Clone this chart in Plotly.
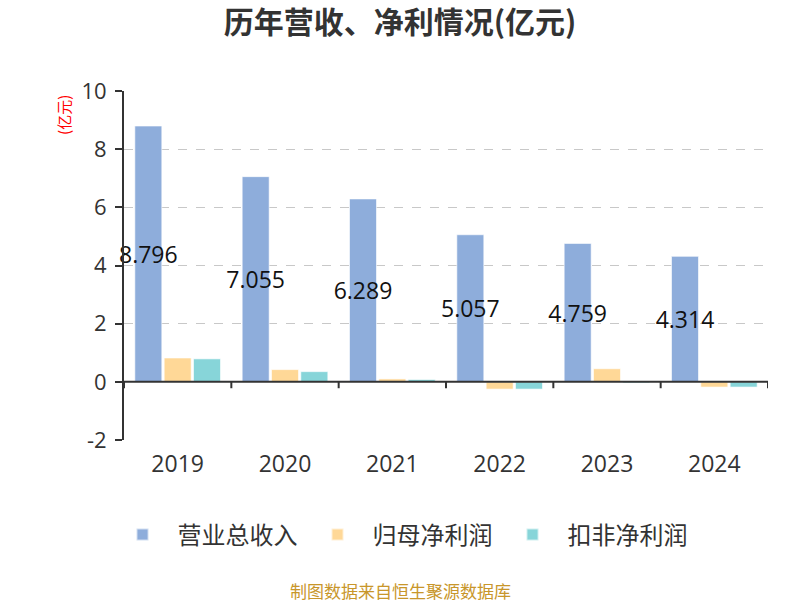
import plotly.graph_objects as go

years = ["2019", "2020", "2021", "2022", "2023", "2024"]
revenue = [8.796, 7.055, 6.289, 5.057, 4.759, 4.314]
net_profit = [0.82, 0.42, 0.10, -0.25, 0.45, -0.18]
net_profit_deducted = [0.79, 0.35, 0.08, -0.25, -0.04, -0.18]
series_names = ["营业总收入", "归母净利润", "扣非净利润"]
colors = ["#8EADDB", "#FFD897", "#87D5D9"]
y_ticks = [-2, 0, 2, 4, 6, 8, 10]
y_tick_text = ["-2", "0", "2", "4", "6", "8", "10"]

FONT = "Open Sans, Noto Sans CJK SC, sans-serif"
CJK = "Noto Sans CJK SC, sans-serif"

fig = go.Figure()
fig.add_trace(go.Bar(
    x=years, y=revenue, name=series_names[0],
    marker=dict(color=colors[0], line=dict(color="rgba(255,255,255,0.6)", width=1)),
    text=[f"{v:.3f}" for v in revenue], textposition="inside",
    insidetextanchor="middle", textangle=0, constraintext="none",
    insidetextfont=dict(color="#111", size=23, family=FONT),
    cliponaxis=False,
))
fig.add_trace(go.Bar(
    x=years, y=net_profit, name=series_names[1],
    marker=dict(color=colors[1], line=dict(color="rgba(255,255,255,0.6)", width=1)),
))
fig.add_trace(go.Bar(
    x=years, y=net_profit_deducted, name=series_names[2],
    marker=dict(color=colors[2], line=dict(color="rgba(255,255,255,0.6)", width=1)),
))

# x-axis line at zero with boundary ticks
n = len(years)
fig.add_shape(type="line", xref="paper", yref="y", x0=0, x1=1, y0=0, y1=0,
              line=dict(color="#333", width=2), layer="above")
for i in range(n + 1):
    fig.add_shape(type="line", xref="x", yref="y", x0=i - 0.5, x1=i - 0.5,
                  y0=0, y1=-0.22, line=dict(color="#333", width=2), layer="above")

fig.update_layout(
    width=800, height=600,
    paper_bgcolor="white", plot_bgcolor="white",
    margin=dict(l=124, r=32, t=91, b=160, autoexpand=False),
    barmode="group", bargap=0.18, bargroupgap=0.08,
    uniformtext=dict(minsize=23, mode="show"),
    title=dict(text="<b>历年营收、净利情况(亿元)</b>", x=0.5, xanchor="center",
               y=0.963, yanchor="middle",
               font=dict(size=30, color="#333", family=CJK)),
    font=dict(family=FONT, color="#333"),
    xaxis=dict(type="category", showline=False, ticks="", showgrid=False,
               tickfont=dict(size=23, color="#333", family=FONT),
               range=[-0.5, n - 0.5], ticklabelstandoff=8),
    yaxis=dict(range=[-2, 10], tickvals=y_ticks, ticktext=y_tick_text,
               showline=True, linecolor="#333", linewidth=2,
               ticks="outside", ticklen=7, tickwidth=2, tickcolor="#333",
               showgrid=True, gridcolor="#c8c8c8", griddash="dash", gridwidth=1,
               zeroline=False, ticklabelstandoff=4,
               tickfont=dict(size=22, color="#333", family=FONT)),
    legend=dict(orientation="h", x=0.4286, xanchor="center", y=-0.272, yanchor="middle",
                font=dict(size=24, color="#333", family=CJK),
                itemsizing="constant", itemwidth=60, traceorder="normal"),
    showlegend=True,
)

fig.add_annotation(text="(亿元)", xref="paper", yref="paper", x=-0.095, y=0.994,
                   xanchor="center", yanchor="top", textangle=-90, showarrow=False,
                   font=dict(size=15, color="red", family=CJK))
fig.add_annotation(text="制图数据来自恒生聚源数据库", xref="paper", yref="paper",
                   x=0.4286, y=-0.43, xanchor="center", yanchor="middle", showarrow=False,
                   font=dict(size=17, color="#C8962A", family=CJK))

fig.write_html("out.html", config={"displayModeBar": False},
               post_script="document.body.style.margin='0';"
               "document.body.style.overflow='hidden';")
